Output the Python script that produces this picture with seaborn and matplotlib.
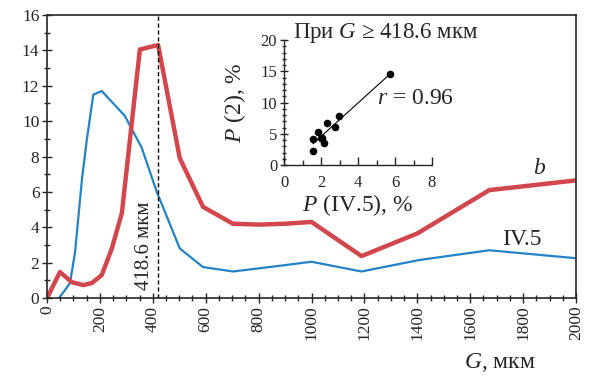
import numpy as np
import pandas as pd
import seaborn as sns
import matplotlib.pyplot as plt
from matplotlib.ticker import MultipleLocator

# main curves
g_b = [0, 49, 93, 137, 170, 207, 245, 283, 351, 420, 502, 590, 703, 800, 900, 1000, 1189, 1400, 1672, 2000]
p_b = [0, 1.47, 0.9, 0.73, 0.85, 1.3, 2.8, 4.8, 14.05, 14.3, 7.9, 5.15, 4.2, 4.15, 4.2, 4.3, 2.37, 3.65, 6.1, 6.65]

g_iv = [45, 68, 87, 106, 132, 150, 175, 207, 294, 358, 415, 502, 590, 703, 868, 1000, 1189, 1408, 1672, 2000]
p_iv = [0, 0.45, 0.85, 2.6, 6.7, 8.9, 11.5, 11.7, 10.3, 8.5, 6.0, 2.8, 1.75, 1.5, 1.8, 2.05, 1.5, 2.15, 2.7, 2.25]

g_cut = 418.6

# inset scatter
p_iv5 = [5.74, 2.95, 2.33, 2.77, 1.83, 1.56, 1.97, 2.15, 2.05, 1.56]
p_2 = [14.5, 7.84, 6.67, 6.08, 5.23, 4.16, 4.27, 3.57, 4.4, 2.29]

sns.set_style('ticks')
plt.rcParams['font.family'] = ['Liberation Serif', 'DejaVu Serif']
plt.rcParams['mathtext.fontset'] = 'custom'
plt.rcParams['mathtext.rm'] = 'Liberation Serif'
plt.rcParams['mathtext.it'] = 'Liberation Serif:italic'

red = '#D2474E'
blue = '#2483C5'

fig = plt.figure(figsize=(5.9, 3.76), dpi=100)
ax = fig.add_axes([0.0797, 0.2074, 0.8966, 0.7527])

sns.lineplot(x=g_iv, y=p_iv, ax=ax, color=blue, lw=1.6, sort=False)
sns.lineplot(x=g_b, y=p_b, ax=ax, color=red, lw=3.2, sort=False)
ax.axvline(g_cut, color='black', lw=1, ls=(0, (3, 2)))

ax.set_xlim(0, 2000)
ax.set_ylim(0, 16)
ax.xaxis.set_major_locator(MultipleLocator(200))
ax.xaxis.set_minor_locator(MultipleLocator(50))
ax.yaxis.set_major_locator(MultipleLocator(2))
ax.yaxis.set_minor_locator(MultipleLocator(1))
ax.tick_params(which='major', direction='inout', length=7, width=1, labelsize=12.5, pad=2)
ax.tick_params(which='minor', direction='inout', length=4, width=1)
ax.tick_params(axis='x', labelrotation=90)
for s in ax.spines.values():
    s.set_linewidth(1.2)

ax.text(403, 0.45, '418.6 мкм', rotation=90, ha='right', va='bottom', fontsize=15)
ax.text(1860, 7.34, 'b', style='italic', fontsize=17, ha='center', va='center')
ax.text(1796, 3.33, 'IV.5', fontsize=17, ha='center', va='center')
fig.text(0.847, 0.037, '$G$, мкм', fontsize=17, ha='center', va='center')

# inset
ins = fig.add_axes([0.4815, 0.561, 0.2508, 0.3324])
sns.regplot(x=p_iv5, y=p_2, ax=ins, ci=None, scatter=False,
            line_kws=dict(color='black', lw=0.8))
sns.scatterplot(x=p_iv5, y=p_2, ax=ins, color='black', s=30, edgecolor='black', linewidth=0, zorder=3)
ins.set_facecolor('none')
ins.set_xlim(0, 8)
ins.set_ylim(0, 20)
ins.xaxis.set_major_locator(MultipleLocator(2))
ins.xaxis.set_minor_locator(MultipleLocator(1))
ins.yaxis.set_major_locator(MultipleLocator(5))
ins.yaxis.set_minor_locator(MultipleLocator(1))
ins.tick_params(which='major', direction='inout', length=6, width=1, labelsize=12, pad=2)
ins.tick_params(which='minor', direction='inout', length=3.5, width=1)
ins.tick_params(axis='x', which='both', direction='in', pad=7)
for side in ['top', 'right']:
    ins.spines[side].set_visible(False)
for side in ['left', 'bottom']:
    ins.spines[side].set_linewidth(1)
ins.set_xlabel('$P$ (IV.5), %', fontsize=17, labelpad=1)
ins.set_ylabel('$P$ (2), %', fontsize=17, labelpad=9)
ins.text(5.5, 20.4, 'При $G$ ≥ 418.6 мкм', fontsize=16.5, ha='center', va='baseline')
ins.text(7.1, 10.6, '$r$ = 0.96', fontsize=17, ha='center', va='center')

fig.savefig('out.png', dpi=100)
